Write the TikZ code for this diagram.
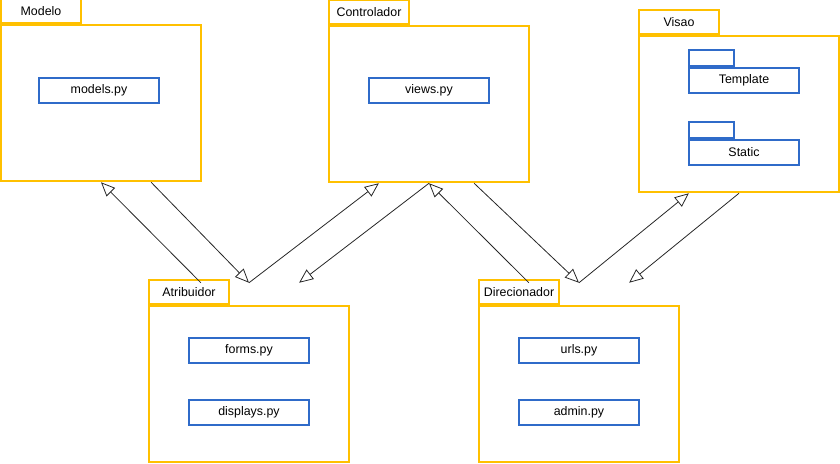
\documentclass[tikz,border=0pt]{standalone}
\usepackage{fontspec}
\setmainfont{Liberation Sans}
\usetikzlibrary{positioning, arrows.meta, calc}
\definecolor{pkgyellow}{HTML}{FFC000}
\definecolor{fileblue}{HTML}{2F6BC9}

\begin{document}
\begin{tikzpicture}[x=0.75pt, y=-0.75pt]
        % Styles
        \tikzstyle{pkgarea} = [rectangle, minimum width=150pt, minimum height=135pt, inner sep=0pt]
        \tikzstyle{pkgbody} = [rectangle, draw=pkgyellow, line width=1.5pt,
        minimum width=150pt, minimum height=117pt, inner sep=0pt]
        \tikzstyle{pkgtab} = [rectangle, draw=pkgyellow, line width=1.5pt,
        minimum width=60pt, minimum height=18pt, inner sep=0pt,
        font=\fontsize{9.3}{11}\selectfont]
        \tikzstyle{file} = [rectangle, draw=fileblue, line width=1.5pt, fill=white,
        minimum width=90pt, minimum height=18.75pt, inner sep=0pt,
        font=\fontsize{9.3}{11}\selectfont]
        \tikzstyle{filetab} = [rectangle, draw=fileblue, line width=1.5pt,
        minimum width=33.75pt, minimum height=12pt, inner sep=0pt]
        \tikzstyle{flow} = [-{Triangle[open, length=10.5pt, width=9pt]}, line width=0.6pt, black!85]

        \useasboundingbox (0,0) rectangle (840,464);

        % Packages
        \node (modelo) [pkgarea] at (101,92) {};
        \node (modelobody) [pkgbody, anchor=south] at (modelo.south) {};
        \node (modelotab) [pkgtab, anchor=south west] at (modelobody.north west) {Modelo};

        \node (ctrl) [pkgarea] at (429,93) {};
        \node (ctrlbody) [pkgbody, anchor=south] at (ctrl.south) {};
        \node (ctrltab) [pkgtab, anchor=south west] at (ctrlbody.north west) {Controlador};

        \node (visao) [pkgarea] at (739,103) {};
        \node (visaobody) [pkgbody, anchor=south] at (visao.south) {};
        \node (visaotab) [pkgtab, anchor=south west] at (visaobody.north west) {Visao};

        \node (atrib) [pkgarea] at (249,373) {};
        \node (atribbody) [pkgbody, anchor=south] at (atrib.south) {};
        \node (atribtab) [pkgtab, anchor=south west] at (atribbody.north west) {Atribuidor};

        \node (direc) [pkgarea] at (579,373) {};
        \node (direcbody) [pkgbody, anchor=south] at (direc.south) {};
        \node (directab) [pkgtab, anchor=south west] at (direcbody.north west) {Direcionador};

        % Files
        \node (models) [file] at (99,90.5) {models.py};
        \node (views) [file] at (429,90.5) {views.py};

        \node (template) [file, minimum width=82.5pt] at (744,80.5) {Template};
        \node (templatetab) [filetab, anchor=south west] at (template.north west) {};
        \node (static) [file, minimum width=82.5pt, below=33.75pt of template] {Static};
        \node (statictab) [filetab, anchor=south west] at (static.north west) {};

        \node (forms) [file] at (249,350.5) {forms.py};
        \node (displays) [file, below=26.25pt of forms] {displays.py};

        \node (urls) [file] at (579,350.5) {urls.py};
        \node (admin) [file, below=26.25pt of urls] {admin.py};

        % Arrows
        \draw[flow] ($(atrib.north west)!0.26!(atrib.north east)$) -- (modelo.south);
        \draw[flow] ($(modelo.south west)!0.75!(modelo.south east)$) -- (atrib.north);
        \draw[flow] (atrib.north) -- ($(ctrl.south west)!0.25!(ctrl.south east)$);
        \draw[flow] (ctrl.south) -- ($(atrib.north west)!0.75!(atrib.north east)$);
        \draw[flow] ($(direc.north west)!0.25!(direc.north east)$) -- (ctrl.south);
        \draw[flow] ($(ctrl.south west)!0.725!(ctrl.south east)$) -- (direc.north);
        \draw[flow] (direc.north) -- ($(visao.south west)!0.25!(visao.south east)$);
        \draw[flow] (visao.south) -- ($(direc.north west)!0.75!(direc.north east)$);
    \end{tikzpicture}
\end{document}
